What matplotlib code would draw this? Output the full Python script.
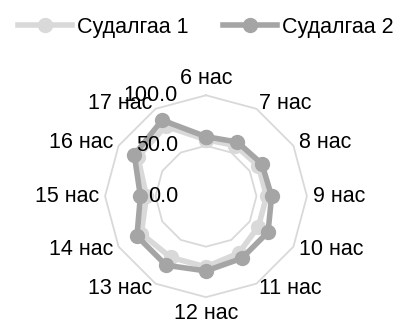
import matplotlib
matplotlib.use("Agg")
import matplotlib.pyplot as plt
import matplotlib.transforms as mtransforms
import numpy as np

plt.rcParams['font.family'] = ['Liberation Sans', 'DejaVu Sans']

categories = ["6 нас", "7 нас", "8 нас", "9 нас", "10 нас", "11 нас",
              "12 нас", "13 нас", "14 нас", "15 нас", "16 нас", "17 нас"]
survey1 = [56, 58, 60, 60, 60, 65, 70, 70, 74, 59, 78, 80]
survey2 = [59, 62, 64, 65, 71, 71, 74, 79, 79, 65, 82, 87]
series_names = ["Судалгаа 1", "Судалгаа 2"]
r_ticks = [0, 50, 100]

light = "#D9D9D9"
dark = "#A5A5A5"
fs = 15.5

fig = plt.figure(figsize=(4.12, 3.23), dpi=100)
ax = fig.add_axes([0.255, 0.080, 0.49, 0.625], projection="polar")
ax.set_theta_zero_location("N")
ax.set_theta_direction(-1)
ax.set_ylim(0, 100)
ax.grid(False)
ax.spines["polar"].set_visible(False)
ax.set_xticks([])
ax.set_yticks([])

n = len(categories)
angles = np.arange(n) * 2 * np.pi / n
closed = np.append(angles, angles[0])

# polygon gridlines
for r in r_ticks[1:]:
    ax.plot(closed, [r] * (n + 1), color=light, lw=1.3, zorder=1, clip_on=False)

handles = []
for vals, col, name in [(survey1, light, series_names[0]),
                        (survey2, dark, series_names[1])]:
    v = np.append(vals, vals[0])
    h, = ax.plot(closed, v, color=col, lw=4, marker="o", ms=10,
                 label=name, zorder=3, clip_on=False)
    handles.append(h)

# category labels
for a, lab in zip(angles, categories):
    s, c = np.sin(a), np.cos(a)
    ha = "center" if abs(s) < 0.1 else ("left" if s > 0 else "right")
    va = "center" if abs(c) < 0.95 else ("bottom" if c > 0 else "top")
    ax.text(a, 106, lab, ha=ha, va=va, fontsize=fs, color="black")

# radial labels
off = mtransforms.offset_copy(ax.transData, fig=fig, x=-28, y=0, units="dots")
for r in r_ticks:
    ax.text(0, r, f"{r:.1f}", transform=off, ha="right", va="center",
            fontsize=fs, color="black")

fig.legend(handles=handles, loc="center", bbox_to_anchor=(0.5, 0.915),
           ncol=2, frameon=False, fontsize=fs, handlelength=2.5,
           handletextpad=0.25, columnspacing=1.6)

fig.savefig("out.png", dpi=100)
